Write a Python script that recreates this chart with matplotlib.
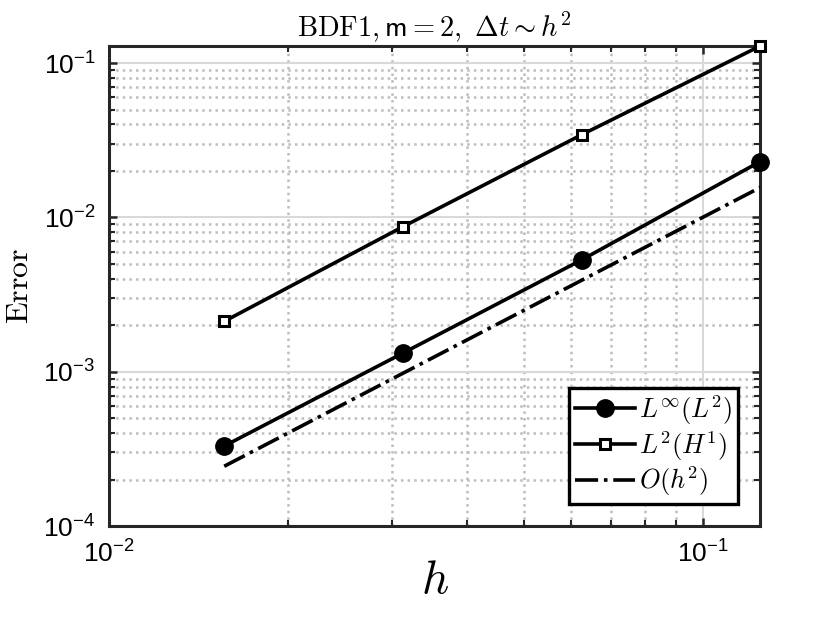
import matplotlib
matplotlib.use("Agg")
import matplotlib.pyplot as plt
from matplotlib.ticker import LogLocator, FixedLocator, NullFormatter, FixedFormatter

plt.rcParams['mathtext.fontset'] = 'cm'
plt.rcParams['font.family'] = ['Liberation Sans', 'DejaVu Sans']

h = [1/64, 1/32, 1/16, 1/8]
err_linf = [3.3e-4, 1.32e-3, 5.3e-3, 2.30e-2]
err_h1 = [2.12e-3, 8.7e-3, 3.43e-2, 1.29e-1]
ref_h2 = [2.44e-4, 9.77e-4, 3.91e-3, 1.5625e-2]

xticks = [1e-2, 1e-1]
xticklabels = [r'$\mathregular{10^{-2}}$', r'$\mathregular{10^{-1}}$']
yticks = [1e-4, 1e-3, 1e-2, 1e-1]
yticklabels = [r'$\mathregular{10^{-4}}$', r'$\mathregular{10^{-3}}$',
               r'$\mathregular{10^{-2}}$', r'$\mathregular{10^{-1}}$']

fig = plt.figure(figsize=(8.4, 6.3), dpi=100)
ax = fig.add_axes([0.130, 0.165, 0.775, 0.762])

ax.loglog(h, err_linf, '-', color='k', lw=2.6, marker='o', markersize=12.5,
          markerfacecolor='k', label=r'$L^{\infty}(L^2)$', clip_on=False, zorder=5)
ax.loglog(h, err_h1, '-', color='k', lw=2.6, marker='s', markersize=7,
          markerfacecolor='w', markeredgewidth=2.2, label=r'$L^2(H^1)$', clip_on=False, zorder=5)
ax.loglog(h, ref_h2, '-.', color='k', lw=2.6, label=r'$O(h^2)$', zorder=4)

ax.set_xlim(1e-2, 0.125)
ax.set_ylim(1e-4, err_h1[-1])

ax.xaxis.set_major_locator(FixedLocator(xticks))
ax.xaxis.set_major_formatter(FixedFormatter(xticklabels))
ax.yaxis.set_major_locator(FixedLocator(yticks))
ax.yaxis.set_major_formatter(FixedFormatter(yticklabels))
ax.xaxis.set_minor_locator(LogLocator(base=10, subs=range(2, 10), numticks=20))
ax.yaxis.set_minor_locator(LogLocator(base=10, subs=range(2, 10), numticks=20))
ax.xaxis.set_minor_formatter(NullFormatter())
ax.yaxis.set_minor_formatter(NullFormatter())

ax.tick_params(which='both', direction='in', top=True, right=True, color='#262626')
ax.tick_params(which='major', length=6, width=1.8, labelsize=19, pad=10)
ax.tick_params(which='minor', length=4, width=1.5)

ax.grid(True, which='major', linestyle='-', color='#d9d9d9', lw=1.5)
ax.grid(True, which='minor', linestyle=':', color='#bdbdbd', lw=1.8)
ax.set_axisbelow(True)

for s in ax.spines.values():
    s.set_linewidth(2.2)
    s.set_color('#262626')

ax.set_title(r'$\mathrm{BDF1}, \mathsf{m} = 2,\ \Delta t \sim h^2$', fontsize=20.5, pad=6)
ax.set_xlabel(r'$h$', fontsize=34, labelpad=-6)
ax.set_ylabel(r'$\mathrm{Error}$', fontsize=23, labelpad=6)

leg = ax.legend(loc='lower right', fontsize=19, frameon=True, fancybox=False,
                edgecolor='k', framealpha=1, handlelength=2.3, borderpad=0.2,
                labelspacing=0.08, handletextpad=0.15, borderaxespad=0.85)
leg.get_frame().set_linewidth(2.4)

fig.savefig('out.png', dpi=100)
